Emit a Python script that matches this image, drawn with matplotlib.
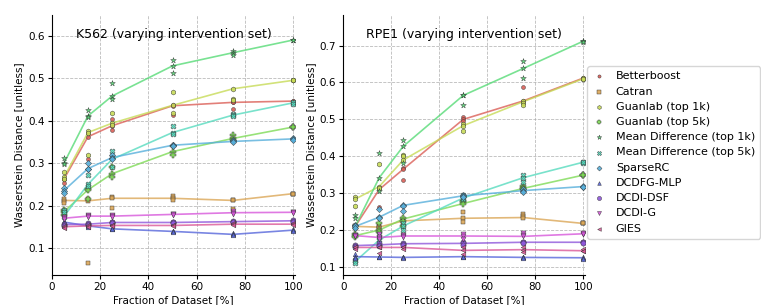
import numpy as np
import matplotlib
matplotlib.use("Agg")
import matplotlib.pyplot as plt
import seaborn as sns


# fraction of the dataset used (x axis)
fractions = [5, 15, 25, 50, 75, 100]

methods = ["Betterboost", "Catran", "Guanlab (top 1k)", "Guanlab (top 5k)",
           "Mean Difference (top 1k)", "Mean Difference (top 5k)", "SparseRC",
           "DCDFG-MLP", "DCDI-DSF", "DCDI-G", "GIES"]
markers = ["o", "s", "h", "P", "*", "X", "D", "^", "o", "v", "<"]
marker_sizes = [8, 11, 13, 14, 18, 14, 10, 11, 14, 13, 11]

#######################################################
# K562 (median line + individual seeds)
#######################################################
k562_line = [
    [0.262, 0.362, 0.388, 0.435, 0.443, 0.446],
    [0.212, 0.211, 0.217, 0.217, 0.212, 0.228],
    [0.266, 0.372, 0.394, 0.436, 0.475, 0.495],
    [0.185, 0.237, 0.275, 0.327, 0.358, 0.385],
    [0.299, 0.411, 0.458, 0.529, 0.560, 0.590],
    [0.174, 0.250, 0.309, 0.372, 0.413, 0.442],
    [0.235, 0.287, 0.313, 0.342, 0.351, 0.357],
    [0.161, 0.152, 0.145, 0.139, 0.132, 0.142],
    [0.155, 0.156, 0.160, 0.160, 0.162, 0.164],
    [0.170, 0.175, 0.175, 0.179, 0.183, 0.184],
    [0.150, 0.152, 0.153, 0.153, 0.156, 0.156],
]
k562_pts = [
    [[0.263, 0.253, 0.262], [0.370, 0.362, 0.309], [0.403, 0.388, 0.379], [0.436, 0.434, 0.413], [0.445, 0.443, 0.428], [0.446, 0.447, 0.445]],
    [[0.215, 0.210, 0.207], [0.215, 0.211, 0.065], [0.220, 0.217, 0.193], [0.222, 0.217, 0.213], [0.213, 0.212, 0.192], [0.228, 0.228, 0.227]],
    [[0.280, 0.266, 0.262], [0.375, 0.372, 0.318], [0.419, 0.395, 0.390], [0.467, 0.436, 0.418], [0.475, 0.451, 0.449], [0.495, 0.495, 0.496]],
    [[0.190, 0.185, 0.178], [0.240, 0.237, 0.216], [0.290, 0.275, 0.268], [0.340, 0.327, 0.318], [0.365, 0.358, 0.355], [0.385, 0.386, 0.385]],
    [[0.313, 0.299, 0.297], [0.424, 0.411, 0.409], [0.488, 0.458, 0.451], [0.543, 0.529, 0.513], [0.565, 0.560, 0.554], [0.590, 0.590, 0.589]],
    [[0.190, 0.185, 0.174], [0.272, 0.250, 0.245], [0.328, 0.315, 0.290], [0.387, 0.372, 0.368], [0.415, 0.413, 0.410], [0.442, 0.443, 0.440]],
    [[0.242, 0.235, 0.230], [0.300, 0.287, 0.285], [0.318, 0.313, 0.310], [0.343, 0.342, 0.340], [0.355, 0.351, 0.350], [0.360, 0.357, 0.354]],
    [[0.163, 0.161, 0.158], [0.155, 0.152, 0.150], [0.147, 0.145, 0.144], [0.140, 0.139, 0.137], [0.135, 0.132, 0.130], [0.144, 0.142, 0.140]],
    [[0.157, 0.155, 0.152], [0.158, 0.156, 0.154], [0.162, 0.160, 0.158], [0.162, 0.160, 0.158], [0.164, 0.162, 0.160], [0.166, 0.164, 0.162]],
    [[0.172, 0.170, 0.168], [0.178, 0.175, 0.173], [0.177, 0.175, 0.174], [0.181, 0.179, 0.177], [0.186, 0.183, 0.180], [0.185, 0.184, 0.183]],
    [[0.152, 0.150, 0.148], [0.154, 0.152, 0.150], [0.155, 0.153, 0.151], [0.155, 0.153, 0.151], [0.158, 0.156, 0.154], [0.158, 0.156, 0.154]],
]

#######################################################
# RPE1 (median line + individual seeds)
#######################################################
rpe1_line = [
    [0.210, 0.310, 0.365, 0.500, 0.550, 0.612],
    [0.210, 0.208, 0.225, 0.232, 0.234, 0.218],
    [0.284, 0.318, 0.390, 0.483, 0.548, 0.610],
    [0.185, 0.200, 0.230, 0.272, 0.313, 0.349],
    [0.210, 0.342, 0.427, 0.565, 0.638, 0.712],
    [0.115, 0.173, 0.211, 0.287, 0.342, 0.384],
    [0.210, 0.235, 0.267, 0.293, 0.307, 0.318],
    [0.128, 0.127, 0.126, 0.128, 0.126, 0.125],
    [0.158, 0.160, 0.163, 0.164, 0.167, 0.167],
    [0.185, 0.180, 0.184, 0.184, 0.183, 0.190],
    [0.153, 0.153, 0.153, 0.145, 0.147, 0.144],
]
rpe1_pts = [
    [[0.215, 0.210, 0.205], [0.315, 0.310, 0.263], [0.368, 0.365, 0.336], [0.507, 0.500, 0.495], [0.587, 0.550, 0.548], [0.612, 0.610, 0.611]],
    [[0.212, 0.210, 0.208], [0.210, 0.208, 0.205], [0.230, 0.225, 0.220], [0.248, 0.232, 0.222], [0.244, 0.238, 0.234], [0.218, 0.218, 0.219]],
    [[0.291, 0.284, 0.266], [0.379, 0.318, 0.313], [0.403, 0.400, 0.390], [0.488, 0.483, 0.468], [0.550, 0.545, 0.540], [0.610, 0.611, 0.609]],
    [[0.190, 0.185, 0.180], [0.220, 0.200, 0.195], [0.232, 0.225, 0.210], [0.280, 0.275, 0.272], [0.320, 0.313, 0.310], [0.349, 0.350, 0.348]],
    [[0.241, 0.232, 0.210], [0.408, 0.342, 0.305], [0.443, 0.427, 0.383], [0.565, 0.540, 0.566], [0.659, 0.638, 0.613], [0.712, 0.712, 0.711]],
    [[0.120, 0.115, 0.110], [0.190, 0.180, 0.173], [0.220, 0.211, 0.200], [0.295, 0.287, 0.283], [0.350, 0.342, 0.330], [0.384, 0.383, 0.385]],
    [[0.215, 0.210, 0.205], [0.258, 0.235, 0.233], [0.268, 0.266, 0.251], [0.296, 0.293, 0.290], [0.310, 0.307, 0.303], [0.318, 0.319, 0.317]],
    [[0.135, 0.128, 0.125], [0.128, 0.127, 0.126], [0.127, 0.126, 0.125], [0.130, 0.128, 0.127], [0.127, 0.126, 0.124], [0.126, 0.125, 0.123]],
    [[0.160, 0.158, 0.155], [0.165, 0.160, 0.158], [0.165, 0.163, 0.160], [0.168, 0.164, 0.160], [0.168, 0.167, 0.165], [0.168, 0.167, 0.165]],
    [[0.188, 0.185, 0.183], [0.190, 0.180, 0.175], [0.188, 0.184, 0.182], [0.190, 0.184, 0.175], [0.192, 0.188, 0.183], [0.190, 0.191, 0.189]],
    [[0.155, 0.153, 0.150], [0.155, 0.153, 0.137], [0.155, 0.153, 0.150], [0.155, 0.145, 0.135], [0.155, 0.147, 0.140], [0.148, 0.144, 0.142]],
]

colors = sns.color_palette("hls", len(methods))


def draw_panel(ax, lines, pts, title, ylim):
    for i, name in enumerate(methods):
        ax.plot(fractions, lines[i], color=colors[i], lw=1.2, alpha=0.8, zorder=2)
        xs = np.repeat(fractions, 3)
        ys = np.array(pts[i]).ravel()
        ax.scatter(xs, ys, s=marker_sizes[i], marker=markers[i], color=colors[i],
                   edgecolor="#333333", linewidth=0.35, alpha=0.9, zorder=3, label=name)
    ax.set_xlim(0, 100.8)
    ax.set_ylim(*ylim)
    ax.set_xticks([0, 20, 40, 60, 80, 100])
    ax.grid(True, color="#aaaaaa", linestyle="--", linewidth=0.6, alpha=0.8)
    ax.set_axisbelow(True)
    for side in ["top", "right"]:
        ax.spines[side].set_visible(False)
    ax.tick_params(labelsize=7.5, length=3, width=0.8, pad=2)
    ax.set_xlabel("Fraction of Dataset [%]", fontsize=7.5, labelpad=2)
    ax.set_ylabel("Wasserstein Distance [unitless]", fontsize=7.5, labelpad=3)
    ax.text(0.5, 0.95, title, transform=ax.transAxes, ha="center", va="top",
            fontsize=9)


fig = plt.figure(figsize=(7.61, 3.05), dpi=100)
ax1 = fig.add_axes([0.068, 0.098, 0.320, 0.853])
ax2 = fig.add_axes([0.451, 0.098, 0.318, 0.853])

draw_panel(ax1, k562_line, k562_pts, "K562 (varying intervention set)", (0.036, 0.649))
draw_panel(ax2, rpe1_line, rpe1_pts, "RPE1 (varying intervention set)", (0.078, 0.783))

handles, labels = ax1.get_legend_handles_labels()
fig.legend(handles, labels, loc="center left", bbox_to_anchor=(0.772, 0.5),
           borderaxespad=0, fontsize=8, frameon=True, edgecolor="#cccccc",
           labelspacing=0.47, handletextpad=0.9, borderpad=0.45,
           markerscale=0.8, handlelength=1.2)

fig.savefig("out.png", dpi=100)
